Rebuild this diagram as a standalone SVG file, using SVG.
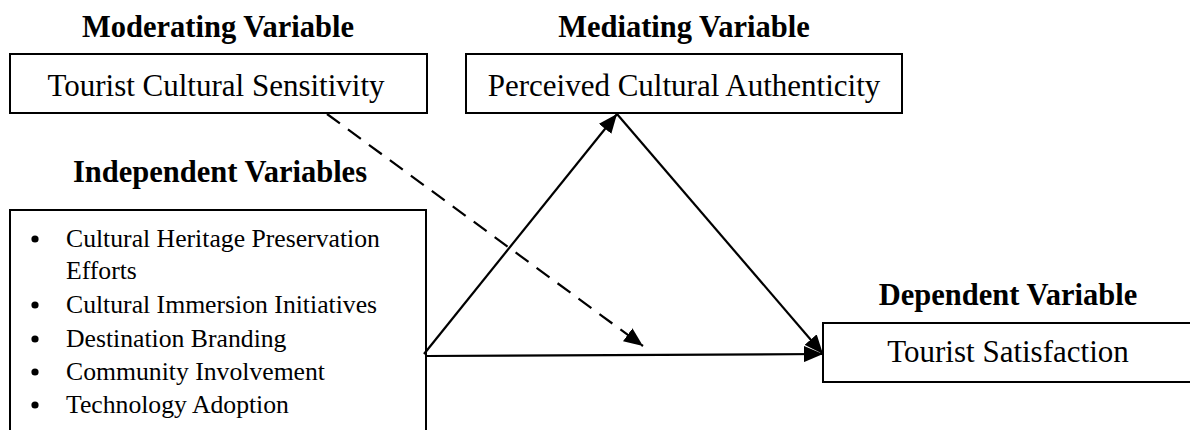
<svg xmlns="http://www.w3.org/2000/svg" width="1190" height="430" viewBox="0 0 1190 430">
<style>
.box{fill:#fff;stroke:#000;stroke-width:2}
.title{font-family:"Liberation Serif","Times New Roman",serif;font-weight:bold;font-size:30.5px;text-anchor:middle;fill:#000}
.label{font-family:"Liberation Serif","Times New Roman",serif;font-size:31px;text-anchor:middle;fill:#000}
.item{font-family:"Liberation Serif","Times New Roman",serif;font-size:25.7px;fill:#000}
.conn{stroke:#000;stroke-width:2.2;fill:none}
.dash{stroke-dasharray:16 10}
</style>
<defs>
<marker id="arrow" markerUnits="userSpaceOnUse" markerWidth="20" markerHeight="16" refX="19" refY="8" orient="auto">
<path d="M0,0 L19,8 L0,16 z" fill="#000"/>
</marker>
</defs>
<g id="moderating">
<text class="title" x="218" y="37">Moderating Variable</text>
<rect class="box" x="10" y="54" width="417" height="59"/>
<text class="label" x="216" y="96">Tourist Cultural Sensitivity</text>
</g>
<g id="mediating">
<text class="title" x="684" y="37">Mediating Variable</text>
<rect class="box" x="466" y="54" width="436" height="59"/>
<text class="label" x="684" y="96">Perceived Cultural Authenticity</text>
</g>
<g id="independent">
<text class="title" x="220" y="182">Independent Variables</text>
<rect class="box" x="10" y="210" width="416" height="230"/>
<circle cx="35" cy="239" r="3.6"/>
<text class="item" x="66" y="247">Cultural Heritage Preservation</text>
<text class="item" x="66" y="279">Efforts</text>
<circle cx="35" cy="305" r="3.6"/>
<text class="item" x="66" y="313">Cultural Immersion Initiatives</text>
<circle cx="35" cy="339" r="3.6"/>
<text class="item" x="66" y="347">Destination Branding</text>
<circle cx="35" cy="372" r="3.6"/>
<text class="item" x="66" y="380">Community Involvement</text>
<circle cx="35" cy="405" r="3.6"/>
<text class="item" x="66" y="413">Technology Adoption</text>
</g>
<g id="dependent">
<text class="title" x="1008" y="305">Dependent Variable</text>
<rect class="box" x="823" y="323" width="380" height="59"/>
<text class="label" x="1008" y="362">Tourist Satisfaction</text>
</g>
<g id="connectors">
<line class="conn" x1="424" y1="354" x2="617" y2="114" marker-end="url(#arrow)"/>
<line class="conn" x1="617" y1="114" x2="823" y2="354" marker-end="url(#arrow)"/>
<line class="conn" x1="426" y1="356" x2="823" y2="354" marker-end="url(#arrow)"/>
<line class="conn dash" x1="327" y1="114" x2="643" y2="346" marker-end="url(#arrow)"/>
</g>
</svg>
